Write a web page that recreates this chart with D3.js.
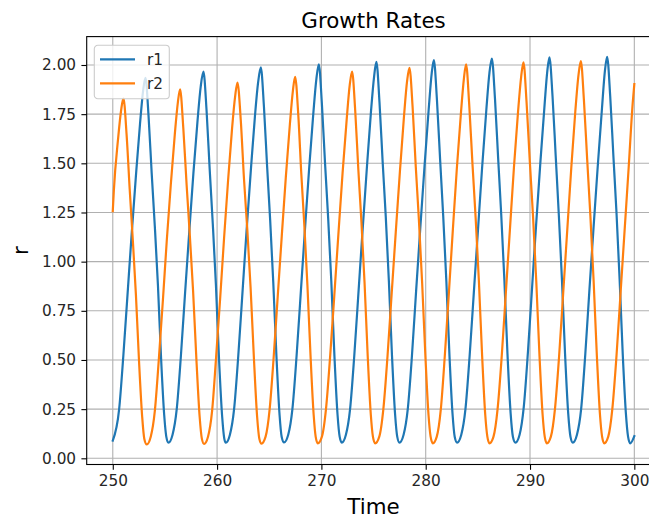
<!DOCTYPE html>
<html>
<head>
<meta charset="utf-8">
<script src="https://cdn.jsdelivr.net/npm/d3@7"></script>
<style>
  body { margin: 0; background: #fff; }
  svg { display: block; font-family: "DejaVu Sans", sans-serif; }
</style>
</head>
<body>
<div id="chart"></div>
<script>
// values: [time, r]
const r1 = [
  [250, 0.09],
  [250.61, 0.25], [251.01, 0.52], [251.41, 0.83], [251.81, 1.14], [252.21, 1.43], [252.61, 1.70], [252.91, 1.87], [253.13, 1.935],
  [253.43, 1.74], [253.73, 1.45], [254.03, 1.18], [254.33, 0.88], [254.63, 0.51], [254.93, 0.22], [255.13, 0.11], [255.33, 0.079],
  [255.73, 0.12], [256.13, 0.25], [256.53, 0.52], [256.93, 0.84], [257.33, 1.15], [257.73, 1.45], [258.13, 1.72], [258.43, 1.89], [258.69, 1.966],
  [258.99, 1.77], [259.29, 1.47], [259.59, 1.19], [259.89, 0.88], [260.19, 0.50], [260.49, 0.21], [260.69, 0.10], [260.83, 0.079],
  [261.23, 0.12], [261.63, 0.25], [262.03, 0.52], [262.43, 0.84], [262.83, 1.16], [263.23, 1.46], [263.63, 1.74], [263.93, 1.91], [264.19, 1.988],
  [264.49, 1.79], [264.79, 1.49], [265.09, 1.21], [265.39, 0.89], [265.69, 0.52], [265.99, 0.22], [266.19, 0.11], [266.42, 0.081],
  [266.82, 0.12], [267.22, 0.25], [267.62, 0.52], [268.02, 0.84], [268.42, 1.16], [268.82, 1.47], [269.22, 1.75], [269.52, 1.93], [269.75, 2.003],
  [270.05, 1.80], [270.35, 1.50], [270.65, 1.22], [270.95, 0.90], [271.25, 0.52], [271.55, 0.22], [271.75, 0.11], [271.95, 0.08],
  [272.35, 0.12], [272.75, 0.25], [273.15, 0.52], [273.55, 0.84], [273.95, 1.16], [274.35, 1.47], [274.75, 1.76], [275.05, 1.94], [275.27, 2.016],
  [275.57, 1.81], [275.87, 1.51], [276.17, 1.23], [276.47, 0.90], [276.77, 0.52], [277.07, 0.22], [277.27, 0.11], [277.48, 0.08],
  [277.88, 0.12], [278.28, 0.25], [278.68, 0.52], [279.08, 0.85], [279.48, 1.17], [279.88, 1.48], [280.28, 1.77], [280.58, 1.96], [280.78, 2.025],
  [281.08, 1.82], [281.38, 1.52], [281.68, 1.23], [281.98, 0.90], [282.28, 0.52], [282.58, 0.22], [282.78, 0.11], [283.01, 0.08],
  [283.41, 0.12], [283.81, 0.25], [284.21, 0.52], [284.61, 0.84], [285.01, 1.16], [285.41, 1.48], [285.81, 1.77], [286.11, 1.96], [286.34, 2.032],
  [286.64, 1.83], [286.94, 1.53], [287.24, 1.24], [287.54, 0.91], [287.84, 0.53], [288.14, 0.23], [288.36, 0.11], [288.6, 0.08],
  [289.0, 0.12], [289.4, 0.26], [289.8, 0.54], [290.2, 0.87], [290.6, 1.20], [291.0, 1.51], [291.4, 1.80], [291.66, 1.97], [291.86, 2.039],
  [292.16, 1.84], [292.46, 1.54], [292.76, 1.24], [293.06, 0.91], [293.36, 0.53], [293.66, 0.23], [293.88, 0.11], [294.1, 0.08],
  [294.5, 0.12], [294.9, 0.25], [295.3, 0.53], [295.7, 0.86], [296.1, 1.18], [296.5, 1.49], [296.9, 1.78], [297.18, 1.97], [297.39, 2.042],
  [297.69, 1.84], [297.99, 1.54], [298.29, 1.25], [298.59, 0.91], [298.89, 0.53], [299.19, 0.23], [299.4, 0.11], [299.6, 0.076],
  [300, 0.113]
];

const r2 = [
  [250, 1.257], [250.1, 1.36], [250.5, 1.62], [250.8, 1.77], [251.02, 1.83],
  [251.32, 1.65], [251.62, 1.37], [251.92, 1.11], [252.22, 0.83], [252.52, 0.49], [252.82, 0.21], [253.02, 0.10], [253.26, 0.071],
  [253.64, 0.11], [254.03, 0.24], [254.41, 0.50], [254.80, 0.80], [255.18, 1.11], [255.56, 1.39], [255.95, 1.65], [256.24, 1.81], [256.45, 1.876],
  [256.76, 1.68], [257.08, 1.39], [257.39, 1.13], [257.70, 0.85], [258.02, 0.50], [258.33, 0.21], [258.54, 0.10], [258.75, 0.073],
  [259.13, 0.11], [259.52, 0.24], [259.90, 0.51], [260.29, 0.81], [260.67, 1.12], [261.05, 1.41], [261.44, 1.68], [261.73, 1.84], [261.95, 1.911],
  [262.27, 1.72], [262.58, 1.42], [262.90, 1.16], [263.21, 0.87], [263.53, 0.51], [263.84, 0.21], [264.05, 0.10], [264.26, 0.075],
  [264.65, 0.11], [265.04, 0.25], [265.42, 0.51], [265.81, 0.82], [266.20, 1.13], [266.59, 1.43], [266.98, 1.70], [267.27, 1.87], [267.48, 1.94],
  [267.78, 1.75], [268.07, 1.45], [268.37, 1.18], [268.66, 0.88], [268.96, 0.52], [269.26, 0.22], [269.45, 0.11], [269.65, 0.076],
  [270.05, 0.11], [270.44, 0.25], [270.84, 0.52], [271.24, 0.83], [271.63, 1.14], [272.03, 1.45], [272.42, 1.72], [272.72, 1.90], [272.94, 1.967],
  [273.24, 1.77], [273.54, 1.47], [273.84, 1.20], [274.14, 0.89], [274.44, 0.52], [274.74, 0.22], [274.94, 0.11], [275.15, 0.076],
  [275.55, 0.11], [275.94, 0.25], [276.34, 0.52], [276.74, 0.84], [277.13, 1.15], [277.53, 1.46], [277.92, 1.74], [278.22, 1.92], [278.44, 1.986],
  [278.74, 1.79], [279.04, 1.49], [279.35, 1.21], [279.66, 0.89], [279.97, 0.52], [280.27, 0.22], [280.47, 0.11], [280.68, 0.076],
  [281.06, 0.11], [281.45, 0.25], [281.83, 0.52], [282.22, 0.84], [282.60, 1.16], [282.98, 1.47], [283.37, 1.75], [283.66, 1.93], [283.87, 2.003],
  [284.17, 1.80], [284.48, 1.50], [284.79, 1.22], [285.10, 0.90], [285.41, 0.52], [285.71, 0.22], [285.91, 0.11], [286.11, 0.076],
  [286.50, 0.11], [286.89, 0.25], [287.29, 0.52], [287.68, 0.84], [288.07, 1.16], [288.46, 1.48], [288.85, 1.76], [289.15, 1.94], [289.37, 2.013],
  [289.67, 1.81], [289.98, 1.51], [290.29, 1.23], [290.60, 0.90], [290.91, 0.52], [291.21, 0.22], [291.41, 0.11], [291.61, 0.076],
  [292.00, 0.11], [292.39, 0.25], [292.79, 0.52], [293.18, 0.84], [293.57, 1.16], [293.96, 1.48], [294.35, 1.77], [294.65, 1.95], [294.87, 2.02],
  [295.17, 1.82], [295.48, 1.52], [295.79, 1.23], [296.10, 0.90], [296.41, 0.52], [296.71, 0.22], [296.91, 0.11], [297.11, 0.076],
  [297.50, 0.11], [297.89, 0.25], [298.29, 0.52], [298.68, 0.84], [299.07, 1.16], [299.46, 1.48], [299.85, 1.81], [300, 1.903]
];

const seriesNames = ["r1", "r2"];
const seriesColors = ["#1f77b4", "#ff7f0e"];
const xTicks = [250, 260, 270, 280, 290, 300];
const yTicks = [0, 0.25, 0.5, 0.75, 1, 1.25, 1.5, 1.75, 2];

const svgWidth = 649;
const svgHeight = 520;
const plotLeft = 86.7;
const plotRight = 660.4;
const plotTop = 36.6;
const plotBottom = 464.5;
const plotW = plotRight - plotLeft;
const plotH = plotBottom - plotTop;

const svg = d3.select("#chart")
    .append("svg")
    .attr("width", svgWidth)
    .attr("height", svgHeight);

svg.append("defs").append("clipPath")
    .attr("id", "plot-clip")
    .append("rect")
    .attr("width", plotW)
    .attr("height", plotH);

const plot = svg.append("g")
    .attr("transform", `translate(${plotLeft},${plotTop})`);

const scaleX = d3.scaleLinear().domain([247.5, 302.5]).range([0, plotW]);
const scaleY = d3.scaleLinear().domain([-0.0315, 2.1444]).range([plotH, 0]);

// grid
plot.append("g")
    .selectAll("line")
    .data(xTicks)
    .join("line")
    .attr("x1", d => scaleX(d)).attr("x2", d => scaleX(d))
    .attr("y1", 0).attr("y2", plotH)
    .attr("stroke", "#b0b0b0")
    .attr("stroke-width", 1.1);

plot.append("g")
    .selectAll("line")
    .data(yTicks)
    .join("line")
    .attr("x1", 0).attr("x2", plotW)
    .attr("y1", d => scaleY(d)).attr("y2", d => scaleY(d))
    .attr("stroke", "#b0b0b0")
    .attr("stroke-width", 1.1);

// lines
const line = d3.line()
    .x(d => scaleX(d[0]))
    .y(d => scaleY(d[1]))
    .curve(d3.curveMonotoneX);

const lines = plot.append("g").attr("clip-path", "url(#plot-clip)");
[r1, r2].forEach((data, i) => {
    lines.append("path")
        .datum(data)
        .attr("d", line)
        .attr("fill", "none")
        .attr("stroke", seriesColors[i])
        .attr("stroke-width", 2.2)
        .attr("stroke-linejoin", "round")
        .attr("stroke-linecap", "square");
});

// axes
const xAxis = d3.axisBottom(scaleX)
    .tickValues(xTicks)
    .tickFormat(d3.format("d"))
    .tickSize(5.3)
    .tickPadding(5.3);
const yAxis = d3.axisLeft(scaleY)
    .tickValues(yTicks)
    .tickFormat(d3.format(".2f"))
    .tickSize(5.3)
    .tickPadding(5.3);

const gx = plot.append("g")
    .attr("transform", `translate(0,${plotH})`)
    .call(xAxis);
const gy = plot.append("g").call(yAxis);

[gx, gy].forEach(g => {
    g.select(".domain").remove();
    g.selectAll(".tick line").attr("stroke", "#000").attr("stroke-width", 1.1);
    g.selectAll(".tick text")
        .attr("fill", "#262626")
        .style("font-family", "DejaVu Sans")
        .style("font-size", "15.3px");
});

// spines
plot.append("rect")
    .attr("width", plotW)
    .attr("height", plotH)
    .attr("fill", "none")
    .attr("stroke", "#000")
    .attr("stroke-width", 1.1);

// legend
const legend = svg.append("g").attr("transform", "translate(94.3,45.3)");
legend.append("rect")
    .attr("width", 75)
    .attr("height", 53.4)
    .attr("rx", 3.5)
    .attr("fill", "#fff")
    .attr("fill-opacity", 0.8)
    .attr("stroke", "#cccccc")
    .attr("stroke-width", 1.1);

seriesNames.forEach((name, i) => {
    const yy = 14 + i * 24;
    legend.append("line")
        .attr("x1", 5.7).attr("x2", 40.7)
        .attr("y1", yy).attr("y2", yy)
        .attr("stroke", seriesColors[i])
        .attr("stroke-width", 2.2);
    legend.append("text")
        .attr("x", 52.7)
        .attr("y", yy)
        .attr("dy", "0.35em")
        .style("font-size", "15.3px")
        .attr("fill", "#262626")
        .text(name);
});

// titles
svg.append("text")
    .attr("x", (plotLeft + plotRight) / 2)
    .attr("y", 27.5)
    .attr("text-anchor", "middle")
    .style("font-size", "21.4px")
    .attr("fill", "#000")
    .text("Growth Rates");

svg.append("text")
    .attr("x", (plotLeft + plotRight) / 2)
    .attr("y", 513.5)
    .attr("text-anchor", "middle")
    .style("font-size", "21.4px")
    .attr("fill", "#000")
    .text("Time");

svg.append("text")
    .attr("transform", `translate(28,${(plotTop + plotBottom) / 2}) rotate(-90)`)
    .attr("text-anchor", "middle")
    .style("font-size", "21.4px")
    .attr("fill", "#000")
    .text("r");
</script>
</body>
</html>
